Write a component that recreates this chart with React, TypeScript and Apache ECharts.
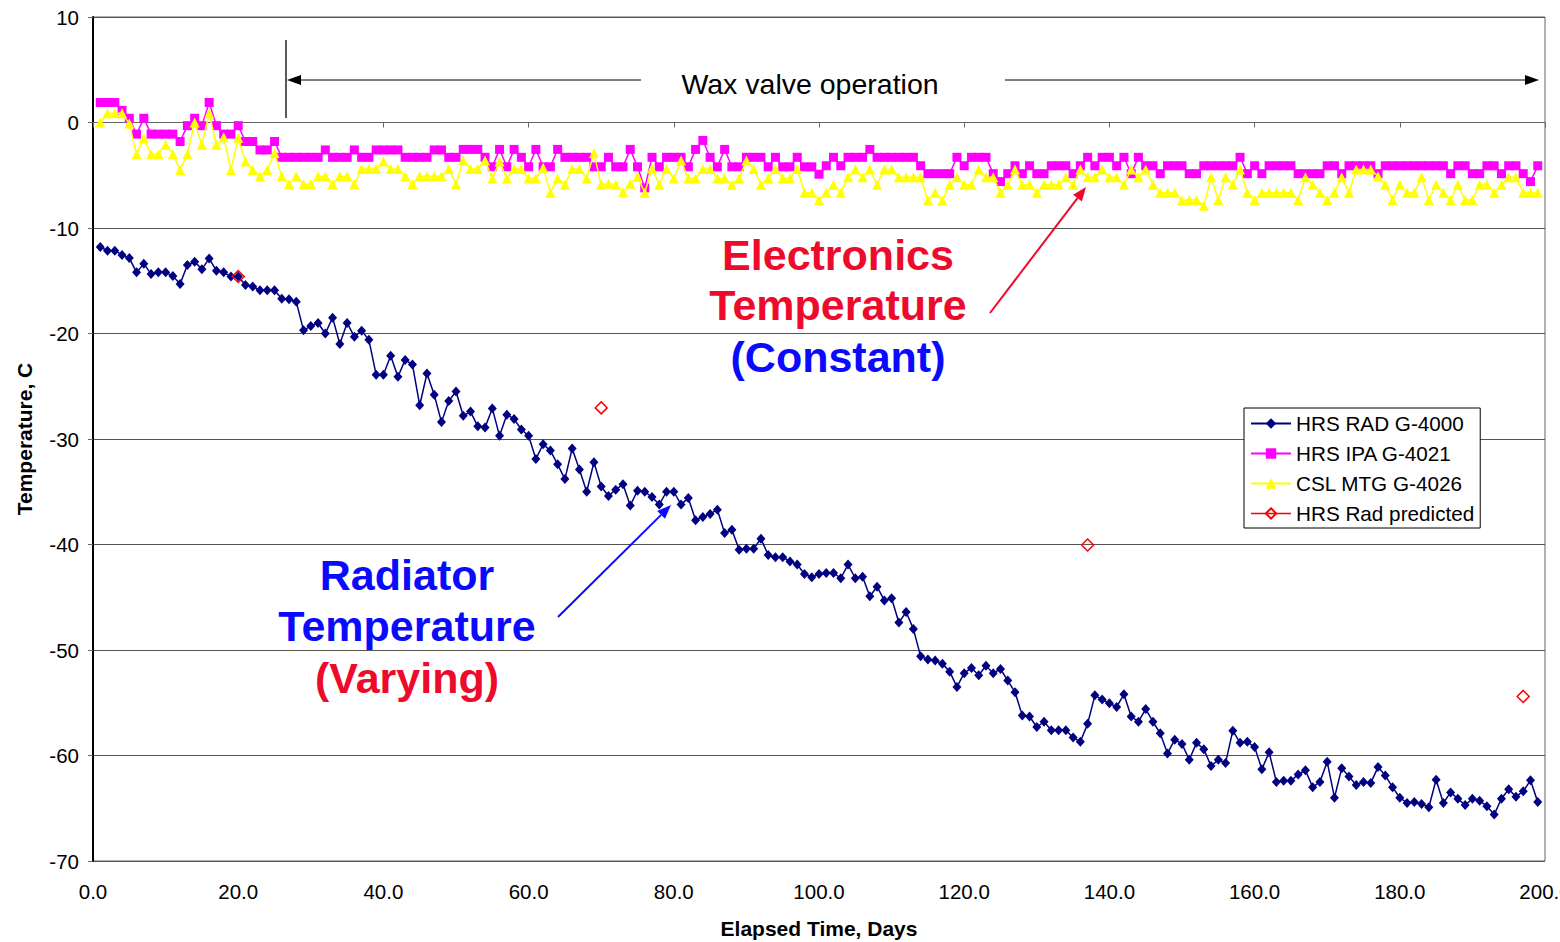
import React, { useEffect, useRef } from "react";
import * as echarts from "echarts";

// ---- data ----
const firstDay = 1; // samples are daily, day 1 .. day 199

const radiatorTemp = [
  -11.8, -12.15, -12.15, -12.55, -12.85, -14.2, -13.4, -14.35, -14.2, -14.2,
  -14.55, -15.3, -13.5, -13.2, -13.9, -12.9, -14.05, -14.2, -14.6, -14.6,
  -15.4, -15.55, -15.9, -15.9, -15.9, -16.7, -16.75, -17.0, -19.7, -19.3,
  -19.0, -20.0, -18.5, -21.0, -19.0, -20.3, -19.75, -20.6, -23.9, -23.9,
  -22.1, -24.1, -22.5, -22.95, -26.8, -23.8, -25.8, -28.4, -26.4, -25.5,
  -27.8, -27.4, -28.8, -28.9, -27.1, -29.7, -27.7, -28.1, -29.1, -29.7,
  -31.9, -30.5, -31.1, -32.4, -33.8, -30.9, -32.9, -35.0, -32.2, -34.5,
  -35.4, -34.8, -34.3, -36.3, -34.9, -35.0, -35.5, -36.2, -35.0, -35.0,
  -36.2, -35.6, -37.7, -37.4, -37.1, -36.7, -38.9, -38.6, -40.5, -40.4,
  -40.4, -39.45, -41.0, -41.2, -41.2, -41.6, -41.9, -42.8, -43.1, -42.8,
  -42.7, -42.7, -43.2, -41.9, -43.2, -43.05, -44.9, -44.0, -45.3, -45.1,
  -47.4, -46.4, -48.0, -50.6, -50.9, -51.0, -51.3, -52.05, -53.5, -52.2,
  -51.7, -52.4, -51.5, -52.2, -51.8, -52.9, -54.0, -56.2, -56.3, -57.3,
  -56.8, -57.6, -57.6, -57.6, -58.3, -58.7, -57.0, -54.3, -54.7, -55.05,
  -55.4, -54.2, -56.3, -56.8, -55.6, -56.8, -57.9, -59.8, -58.5, -58.9,
  -60.4, -58.8, -59.4, -61.0, -60.4, -60.7, -57.65, -58.8, -58.7, -59.2,
  -61.3, -59.7, -62.5, -62.4, -62.4, -61.8, -61.4, -63.0, -62.5, -60.6,
  -64.0, -61.2, -62.0, -62.8, -62.5, -62.6, -61.1, -61.9, -63.0, -64.0,
  -64.5, -64.4, -64.6, -64.9, -62.3, -64.5, -63.5, -64.1, -64.7, -64.1,
  -64.3, -64.8, -65.6, -64.1, -63.2, -63.9, -63.4, -62.35, -64.4,
];

const ipaTemp = [
  1.9, 1.9, 1.9, 1.15, 0.4, -1.1, 0.4, -1.1, -1.1, -1.1,
  -1.1, -1.8, -0.3, 0.4, -0.3, 1.9, -0.3, -1.1, -1.1, -0.3,
  -1.8, -1.8, -2.6, -2.6, -1.8, -3.3, -3.3, -3.3, -3.3, -3.3,
  -3.3, -2.6, -3.3, -3.3, -3.3, -2.6, -3.3, -3.3, -2.6, -2.6,
  -2.6, -2.6, -3.3, -3.3, -3.3, -3.3, -2.6, -2.6, -3.3, -3.3,
  -2.55, -2.55, -2.55, -3.3, -4.2, -2.55, -4.2, -2.55, -3.3, -4.2,
  -2.55, -4.2, -4.2, -2.55, -3.3, -3.3, -3.3, -3.3, -4.2, -4.2,
  -3.3, -4.2, -4.2, -2.55, -4.2, -6.2, -3.3, -4.2, -3.3, -3.3,
  -3.3, -4.2, -2.55, -1.7, -3.3, -4.2, -2.55, -4.2, -4.2, -3.3,
  -3.3, -3.3, -4.2, -3.3, -4.2, -4.2, -3.3, -4.2, -4.2, -4.9,
  -4.1, -3.3, -4.1, -3.3, -3.3, -3.3, -2.55, -3.3, -3.3, -3.3,
  -3.3, -3.3, -3.3, -4.1, -4.85, -4.85, -4.85, -4.85, -3.3, -4.1,
  -3.3, -3.3, -3.3, -4.85, -5.6, -4.85, -4.1, -4.85, -4.1, -4.85,
  -4.85, -4.1, -4.1, -4.1, -4.85, -4.1, -3.3, -4.1, -3.3, -3.3,
  -4.1, -3.3, -4.85, -3.3, -4.1, -4.1, -4.85, -4.1, -4.1, -4.1,
  -4.85, -4.85, -4.1, -4.1, -4.1, -4.1, -4.1, -3.3, -4.85, -4.1,
  -4.85, -4.1, -4.1, -4.1, -4.1, -4.85, -4.85, -4.85, -4.85, -4.1,
  -4.1, -4.85, -4.1, -4.1, -4.1, -4.1, -4.85, -4.1, -4.1, -4.1,
  -4.1, -4.1, -4.1, -4.1, -4.1, -4.1, -4.85, -4.1, -4.1, -4.85,
  -4.85, -4.1, -4.1, -4.85, -4.1, -4.1, -4.85, -5.6, -4.1,
];

const mtgTemp = [
  0.0, 0.87, 0.87, 0.87, -0.1, -3.0, -1.5, -3.0, -3.0, -2.1,
  -3.0, -4.5, -3.0, 0.0, -2.1, 0.87, -2.1, -1.4, -4.5, -1.45,
  -3.7, -4.5, -5.1, -4.5, -2.9, -5.1, -5.85, -5.1, -5.85, -5.85,
  -5.1, -5.1, -5.85, -5.1, -5.1, -5.85, -4.4, -4.4, -4.4, -3.7,
  -4.4, -4.4, -5.1, -5.85, -5.1, -5.1, -5.1, -5.1, -4.4, -5.85,
  -3.6, -4.4, -4.4, -3.6, -5.3, -3.7, -5.3, -4.4, -4.4, -5.3,
  -5.3, -4.3, -6.65, -5.3, -5.9, -4.4, -4.4, -5.3, -2.9, -5.9,
  -5.8, -5.9, -6.6, -5.8, -5.15, -6.65, -4.35, -5.9, -4.4, -5.3,
  -3.6, -5.3, -5.3, -4.4, -4.4, -5.3, -5.3, -5.9, -5.3, -3.6,
  -4.4, -5.9, -5.3, -4.4, -5.3, -5.3, -4.4, -6.65, -6.65, -7.35,
  -6.65, -5.9, -6.65, -5.2, -4.45, -5.2, -4.45, -5.9, -4.45, -4.45,
  -5.2, -5.2, -5.2, -5.2, -7.4, -6.65, -7.4, -5.9, -5.2, -5.9,
  -5.9, -4.45, -5.2, -5.2, -6.65, -5.9, -4.45, -5.9, -5.9, -6.65,
  -5.9, -5.9, -5.9, -5.2, -5.9, -4.45, -5.2, -5.2, -4.45, -5.2,
  -5.2, -5.9, -4.45, -5.2, -4.45, -5.9, -6.65, -6.65, -6.65, -7.4,
  -7.35, -7.35, -7.9, -5.2, -7.35, -5.2, -5.9, -4.45, -6.65, -7.35,
  -6.65, -6.65, -6.65, -6.65, -6.65, -7.35, -5.2, -5.9, -6.65, -7.35,
  -6.65, -5.2, -6.65, -4.45, -4.45, -4.45, -5.1, -5.9, -7.35, -5.9,
  -6.65, -6.65, -5.2, -7.35, -5.9, -6.65, -7.35, -5.9, -7.35, -7.35,
  -5.9, -5.9, -6.65, -5.9, -5.2, -5.2, -6.65, -6.65, -6.65,
];

const predictedDays = [20, 70, 137, 197];
const predictedTemp = [-14.6, -27.05, -40.05, -54.4];

const seriesNames = ["HRS RAD G-4000", "HRS IPA G-4021", "CSL MTG G-4026", "HRS Rad predicted"];
const xTicks = { min: 0, max: 200, interval: 20 };
const yTicks = { min: -70, max: 10, interval: 10 };

const toPairs = (vals: number[]) => vals.map((v, i) => [firstDay + i, v]);

const FONT = "Arial, 'Liberation Sans', Helvetica, sans-serif";

export default function App() {
  const ref = useRef<HTMLDivElement>(null);

  useEffect(() => {
    if (!ref.current) return;
    const chart = echarts.init(ref.current, undefined, { renderer: "svg" });

    const arrowHead = (tip: number[], base: number[], half: number, color: string) => {
      const dx = tip[0] - base[0];
      const dy = tip[1] - base[1];
      const len = Math.hypot(dx, dy);
      const px = -dy / len;
      const py = dx / len;
      return {
        type: "polygon",
        shape: {
          points: [
            tip,
            [base[0] + px * half, base[1] + py * half],
            [base[0] - px * half, base[1] - py * half],
          ],
        },
        style: { fill: color },
        z: 100,
      };
    };

    const bigText = (text: string, x: number, y: number, color: string) => ({
      type: "text",
      x,
      y,
      style: {
        text,
        fill: color,
        font: `bold 43px ${FONT}`,
        align: "center",
        verticalAlign: "middle",
      },
      z: 100,
    });

    const red = "#ee0a2a";
    const blue = "#0a0aff";

    const option: any = {
      animation: false,
      backgroundColor: "#ffffff",
      grid: {
        left: 93,
        top: 17,
        width: 1452,
        height: 844,
        outerBoundsMode: "none",
        containLabel: false,
        show: true,
        borderColor: "#666",
        borderWidth: 1,
        backgroundColor: "transparent",
      },
      legend: {
        orient: "vertical",
        left: 1244,
        top: 408,
        padding: [5, 6, 4, 6],
        itemWidth: 40,
        itemHeight: 13,
        itemGap: 9,
        selectedMode: false,
        backgroundColor: "#fff",
        borderColor: "#000",
        borderWidth: 1,
        borderRadius: 0,
        textStyle: { fontSize: 20.7, fontFamily: FONT, color: "#000", lineHeight: 20 },
        data: [
          seriesNames[0],
          seriesNames[1],
          seriesNames[2],
          { name: seriesNames[3], lineStyle: { color: "#ff0000", width: 1.5, opacity: 1 } },
        ],
      },
      xAxis: {
        type: "value",
        min: xTicks.min,
        max: xTicks.max,
        interval: xTicks.interval,
        name: "Elapsed Time, Days",
        nameLocation: "middle",
        nameGap: 57,
        nameTextStyle: { fontSize: 21, fontWeight: "bold", fontFamily: FONT, color: "#000" },
        axisLine: { show: true, lineStyle: { color: "#666", width: 1 } },
        axisTick: { show: true, length: 5, lineStyle: { color: "#666" } },
        splitLine: { show: false },
        axisLabel: {
          fontSize: 20.5,
          fontFamily: FONT,
          color: "#000",
          margin: 20,
          hideOverlap: false,
          showMaxLabel: true,
          formatter: (v: number) => v.toFixed(1),
        },
      },
      yAxis: {
        type: "value",
        min: yTicks.min,
        max: yTicks.max,
        interval: yTicks.interval,
        name: "Temperature, C",
        nameLocation: "middle",
        nameGap: 58,
        nameTextStyle: { fontSize: 21, fontWeight: "bold", fontFamily: FONT, color: "#000" },
        axisLine: { show: true, lineStyle: { color: "#000", width: 2 } },
        axisTick: { show: true, length: 5, lineStyle: { color: "#666" } },
        splitLine: { show: true, lineStyle: { color: "#555", width: 1 } },
        axisLabel: { fontSize: 20.5, fontFamily: FONT, color: "#000", margin: 14 },
      },
      series: [
        {
          name: seriesNames[0],
          type: "line",
          data: toPairs(radiatorTemp),
          symbol: "diamond",
          symbolSize: [9, 10],
          showAllSymbol: true,
          color: "#000080",
          lineStyle: { color: "#000080", width: 1.5 },
          itemStyle: { color: "#000080" },
          z: 3,
        },
        {
          name: seriesNames[1],
          type: "line",
          data: toPairs(ipaTemp),
          symbol: "rect",
          symbolSize: 9,
          showAllSymbol: true,
          color: "#ff00ff",
          lineStyle: { color: "#ff00ff", width: 1.5 },
          itemStyle: { color: "#ff00ff" },
          z: 4,
        },
        {
          name: seriesNames[2],
          type: "line",
          data: toPairs(mtgTemp),
          symbol: "triangle",
          symbolSize: 10,
          showAllSymbol: true,
          color: "#ffff00",
          lineStyle: { color: "#ffff00", width: 1.5 },
          itemStyle: { color: "#ffff00" },
          z: 5,
        },
        {
          name: seriesNames[3],
          type: "line",
          data: predictedDays.map((d, i) => [d, predictedTemp[i]]),
          symbol: "diamond",
          symbolSize: 12,
          showAllSymbol: true,
          color: "#ff0000",
          lineStyle: { color: "#ff0000", width: 0, opacity: 0 },
          itemStyle: { color: "rgba(255,255,255,0)", borderColor: "#ff0000", borderWidth: 1.5 },
          z: 6,
        },
      ],
      graphic: [
        // Wax valve operation annotation
        { type: "line", shape: { x1: 286, y1: 40, x2: 286, y2: 118 }, style: { stroke: "#222", lineWidth: 1.5 }, z: 100 },
        { type: "line", shape: { x1: 295, y1: 80, x2: 641, y2: 80 }, style: { stroke: "#000", lineWidth: 1 }, z: 100 },
        { type: "polygon", shape: { points: [[287, 80], [301, 75], [301, 85]] }, style: { fill: "#000" }, z: 100 },
        { type: "line", shape: { x1: 1005, y1: 80, x2: 1530, y2: 80 }, style: { stroke: "#000", lineWidth: 1 }, z: 100 },
        { type: "polygon", shape: { points: [[1539, 80], [1525, 75], [1525, 85]] }, style: { fill: "#000" }, z: 100 },
        {
          type: "text",
          x: 810,
          y: 84,
          style: {
            text: "Wax valve operation",
            fill: "#000",
            font: `28.5px ${FONT}`,
            align: "center",
            verticalAlign: "middle",
          },
          z: 100,
        },
        // Electronics annotation
        bigText("Electronics", 838, 255, red),
        bigText("Temperature", 838, 305, red),
        bigText("(Constant)", 838, 357, blue),
        { type: "line", shape: { x1: 990, y1: 313, x2: 1077.5, y2: 198.1 }, style: { stroke: red, lineWidth: 2 }, z: 100 },
        arrowHead([1086, 187], [1077.5, 198.1], 5.5, red),
        // Radiator annotation
        bigText("Radiator", 407, 575, blue),
        bigText("Temperature", 407, 626, blue),
        bigText("(Varying)", 407, 678, red),
        { type: "line", shape: { x1: 558, y1: 617, x2: 661.1, y2: 514.9 }, style: { stroke: blue, lineWidth: 2 }, z: 100 },
        arrowHead([671, 505], [661.1, 514.9], 5.5, blue),
      ],
    };

    chart.setOption(option);
    return () => chart.dispose();
  }, []);

  return (
    <div
      ref={ref}
      style={{ position: "fixed", left: 0, top: 0, width: 1560, height: 942, background: "#fff" }}
    />
  );
}
